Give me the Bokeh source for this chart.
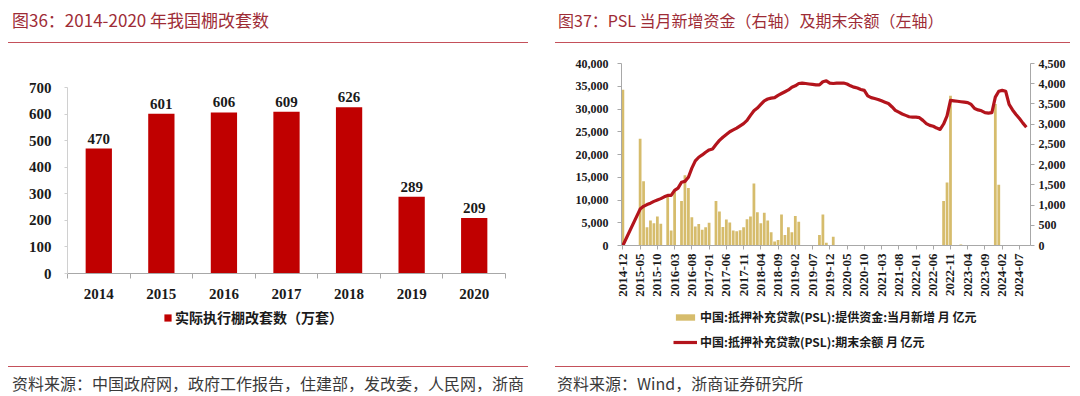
import math
import pandas as pd
from bokeh.plotting import figure
from bokeh.layouts import row, column
from bokeh.models import (Range1d, LinearAxis, FixedTicker, Legend, LegendItem, Div,
                          NumeralTickFormatter)
from bokeh.embed import file_html
from bokeh.resources import INLINE
from bokeh.core.properties import value

# ---------------- data ----------------
years = ["2014", "2015", "2016", "2017", "2018", "2019", "2020"]
units = [470, 601, 606, 609, 626, 289, 209]   # 万套

months = [p.strftime("%Y-%m") for p in pd.period_range("2014-12", periods=118, freq="M")]

# PSL 提供资金: 当月新增 (亿元, right axis)
psl_new = [
    3850, 0, 0, 0, 0, 2640, 1590, 450, 620, 550,
    720, 540, 0, 1240, 370, 1360, 0, 1100, 1740, 1420,
    700, 470, 530, 390, 450, 560, 0, 1100, 840, 460,
    640, 570, 370, 350, 380, 450, 650, 720, 1530, 820,
    550, 810, 620, 330, 100, 135, 765, 260, 450, 330,
    730, 585, 0, 0, 0, 0, 0, 260, 765, 70,
    0, 215, 0, 0, 0, 0, 0, 0, 0, 0,
    0, 0, 0, 0, 0, 0, 0, 0, 0, 0,
    0, 0, 0, 0, 0, 0, 0, 0, 0, 0,
    0, 0, 0, 1100, 1560, 3700, 0, 0, 25, 0,
    0, 0, 0, 0, 0, 0, 0, 0, 3500, 1500,
    0, 0, 0, 0, 0, 0, 0, 0,
]

# PSL 期末余额 (亿元, left axis)
psl_balance = [
    0, None, None, None, None, 8000, 8600, 9000, 9300, 9700,
    10000, 10300, 10700, 11000, 11000, 12100, 12600, 13900, 14100, 15000,
    17000, 18600, 19400, 19900, 20500, 21000, 21200, 22200, 23100, 23800,
    24400, 25000, 25400, 25800, 26300, 26800, 27500, 28600, 29600, 30200,
    31000, 31800, 32200, 32400, 32500, 33000, 33400, 33800, 34200, 34800,
    35100, 35600, 35700, 35600, 35500, 35400, 35300, 35300, 36000, 36200,
    35700, 35600, 35700, 35700, 35700, 35500, 35100, 34800, 34600, 34300,
    34100, 32900, 32500, 32300, 32100, 31800, 31500, 31200, 30500, 29700,
    29300, 28900, 28600, 28300, 28200, 28200, 28100, 27500, 26800, 26400,
    26200, 25800, 25500, 26700, 28500, 31900, 31800, 31700, 31600, 31500,
    31400, 31000, 30100, 29800, 29600, 29200, 29100, 29200, 32600, 33900,
    34100, 33900, 31000, 29800, 28800, 27900, 26900, 26000,
]

left_ticks = [0, 100, 200, 300, 400, 500, 600, 700]
psl_left_ticks = list(range(0, 40001, 5000))
psl_right_ticks = list(range(0, 4501, 500))

title_left = "图36：2014-2020 年我国棚改套数"
title_right = "图37：PSL 当月新增资金（右轴）及期末余额（左轴）"
source_left = "资料来源：中国政府网，政府工作报告，住建部，发改委，人民网，浙商"
source_right = "资料来源：Wind，浙商证券研究所"
legend_left = "实际执行棚改套数（万套）"
legend_new = "中国:抵押补充贷款(PSL):提供资金:当月新增 月 亿元"
legend_bal = "中国:抵押补充贷款(PSL):期末余额 月 亿元"

# ---------------- styles ----------------
TITLE_C = "#9e2c36"
RULE_C = "#c4505a"
SRC_C = "#3a3a3a"
CJK = "Noto Sans CJK SC"
SERIF = "Liberation Serif"
AX_C = "#a8a8a8"
TXT_C = "#1a1a1a"
BAR1_C = "#c00000"
BAR2_C = "#d6bc6c"
LINE_C = "#b3141c"
PW = 540


def strip(f):
    f.grid.visible = False
    f.outline_line_color = None
    f.background_fill_color = None
    f.border_fill_color = None
    return f


def header(text, tx, rx, rw, size):
    html = (
        f'<div style="position:relative;width:{PW}px;height:50px;">'
        f'<div style="position:absolute;left:{tx}px;top:8px;font-family:\'{CJK}\';'
        f'font-size:{size};line-height:24px;color:{TITLE_C};'
        f'white-space:nowrap;">{text}</div>'
        f'<div style="position:absolute;left:{rx}px;top:42px;width:{rw}px;height:0;'
        f'border-top:1.6px solid {RULE_C};"></div></div>'
    )
    return Div(text=html, width=PW, height=50, margin=0)


def footer(text, tx, rx, rw):
    html = (
        f'<div style="position:relative;width:{PW}px;height:41px;">'
        f'<div style="position:absolute;left:{rx}px;top:11px;width:{rw}px;height:0;'
        f'border-top:1.6px solid {RULE_C};"></div>'
        f'<div style="position:absolute;left:{tx}px;top:17px;font-family:\'{CJK}\';'
        f'font-size:16px;line-height:22px;color:{SRC_C};white-space:nowrap;">{text}</div></div>'
    )
    return Div(text=html, width=PW, height=41, margin=0)


def legend_fig(height, bl, br):
    # a strip under the chart that only carries the legend
    f = figure(width=PW, height=height, x_range=Range1d(0, 1), y_range=Range1d(0, 1),
               x_axis_type=None, y_axis_type=None, toolbar_location=None,
               output_backend="svg", title=None, min_border=0,
               min_border_left=bl, min_border_right=br, min_border_top=0, min_border_bottom=0)
    return strip(f)


def style_legend(leg, size, gw, gh):
    leg.label_text_font = CJK
    leg.label_text_font_size = size
    leg.label_text_font_style = "bold"
    leg.label_text_color = TXT_C
    leg.glyph_width = gw
    leg.glyph_height = gh
    leg.label_standoff = 3
    leg.padding = 0
    leg.margin = 0
    leg.border_line_color = None
    leg.background_fill_alpha = 0


# legend-swatch helper renderers: zero-size, so nothing is drawn in the strip itself
SW_X = [0.5]
SW_ZERO = [0.0]

# ---------------- left panel ----------------
hdr1 = header(title_left, 12, 8, 520, "17px")

p1 = figure(width=PW, height=254, x_range=Range1d(-0.5, len(years) - 0.5),
            y_range=Range1d(0, 700), toolbar_location=None, output_backend="svg",
            title=None, min_border_left=67, min_border_right=35,
            min_border_top=37, min_border_bottom=31)
strip(p1)
xs = list(range(len(years)))
p1.vbar(x=xs, top=units, width=0.42, fill_color=BAR1_C, line_color=None)
p1.text(x=xs, y=units, text=[str(v) for v in units], y_offset=-5,
        text_align="center", text_baseline="bottom", text_font=value(SERIF),
        text_font_size="15px", text_font_style="bold", text_color=TXT_C)

xa = p1.xaxis[0]
xa.ticker = FixedTicker(ticks=xs, minor_ticks=[i - 0.5 for i in range(len(years) + 1)])
xa.major_label_overrides = {i: y for i, y in zip(xs, years)}
xa.major_tick_out = 0
xa.major_tick_in = 0
xa.minor_tick_out = 5
xa.minor_tick_in = 0
xa.minor_tick_line_color = AX_C
xa.axis_line_color = AX_C
xa.major_label_standoff = 10
xa.major_label_text_font = SERIF
xa.major_label_text_font_size = "15px"
xa.major_label_text_font_style = "bold"
xa.major_label_text_color = TXT_C

ya = p1.yaxis[0]
ya.ticker = FixedTicker(ticks=left_ticks)
ya.axis_line_color = "#d0d0d0"
ya.major_tick_out = 3
ya.major_tick_in = 0
ya.major_tick_line_color = "#d0d0d0"
ya.minor_tick_line_color = None
ya.major_label_standoff = 13
ya.major_label_text_font = SERIF
ya.major_label_text_font_size = "15px"
ya.major_label_text_font_style = "bold"
ya.major_label_text_color = TXT_C

lg1 = legend_fig(51, 67, 35)
sw1 = lg1.vbar(x=SW_X, top=SW_ZERO, bottom=SW_ZERO, width=0.42,
               fill_color=BAR1_C, line_color=None)
leg1 = Legend(items=[LegendItem(label=legend_left, renderers=[sw1])],
              location=(96, 28), orientation="horizontal")
style_legend(leg1, "14px", 9, 9)
lg1.add_layout(leg1)

ftr1 = footer(source_left, 12, 8, 520)

# ---------------- right panel ----------------
hdr2 = header(title_right, 18, 15, 515, "16px")

p2 = figure(width=PW, height=256, x_range=Range1d(-0.4, 118.2),
            y_range=Range1d(0, 40000), toolbar_location=None, output_backend="svg",
            title=None, min_border_left=81, min_border_right=50,
            min_border_top=13, min_border_bottom=61)
strip(p2)
p2.extra_y_ranges = {"right": Range1d(0, 4500)}
idx = list(range(len(months)))
p2.vbar(x=idx, top=psl_new, width=0.8, fill_color=BAR2_C, line_color=None,
        y_range_name="right")
bx = [i for i, v in zip(idx, psl_balance) if v is not None]
by = [v for v in psl_balance if v is not None]
p2.line(x=bx, y=by, line_color=LINE_C, line_width=3.2, line_join="round")

xa2 = p2.xaxis[0]
tick_idx = list(range(0, len(months), 5))
xa2.ticker = FixedTicker(ticks=tick_idx)
xa2.major_label_overrides = {i: months[i] for i in tick_idx}
xa2.major_label_orientation = math.pi / 2
xa2.major_tick_out = 4
xa2.major_tick_in = 0
xa2.minor_tick_line_color = None
xa2.axis_line_color = AX_C
xa2.major_tick_line_color = AX_C
xa2.major_label_standoff = 4
xa2.major_label_text_font = SERIF
xa2.major_label_text_font_size = "13px"
xa2.major_label_text_font_style = "bold"
xa2.major_label_text_color = TXT_C

ya2 = p2.yaxis[0]
ya2.ticker = FixedTicker(ticks=psl_left_ticks)
ya2.formatter = NumeralTickFormatter(format="0,0")

ra = LinearAxis(y_range_name="right", ticker=FixedTicker(ticks=psl_right_ticks),
                formatter=NumeralTickFormatter(format="0,0"))
p2.add_layout(ra, "right")
for a, so in ((ya2, 9), (ra, 4)):
    a.axis_line_color = AX_C
    a.major_tick_line_color = AX_C
    a.major_tick_out = 4
    a.major_tick_in = 0
    a.minor_tick_line_color = None
    a.major_label_standoff = so
    a.major_label_text_font = SERIF
    a.major_label_text_font_size = "12px"
    a.major_label_text_font_style = "bold"
    a.major_label_text_color = TXT_C

lg2 = legend_fig(49, 81, 50)
sw2a = lg2.vbar(x=SW_X, top=SW_ZERO, bottom=SW_ZERO, width=0.8,
                fill_color=BAR2_C, line_color=None)
sw2b = lg2.line(x=SW_X, y=SW_ZERO, line_color=LINE_C, line_width=3.2)
leg2 = Legend(items=[
    LegendItem(label=legend_new, renderers=[sw2a]),
    LegendItem(label=legend_bal, renderers=[sw2b]),
], location=(52, 5))
style_legend(leg2, "12px", 24, 8)
leg2.spacing = 8
leg2.label_height = 16
lg2.add_layout(leg2)

ftr2 = footer(source_right, 17, 15, 515)

layout = row(column(hdr1, p1, lg1, ftr1, spacing=0),
             column(hdr2, p2, lg2, ftr2, spacing=0), spacing=0)

with open("out.html", "w", encoding="utf-8") as fh:
    fh.write(file_html(layout, INLINE))
